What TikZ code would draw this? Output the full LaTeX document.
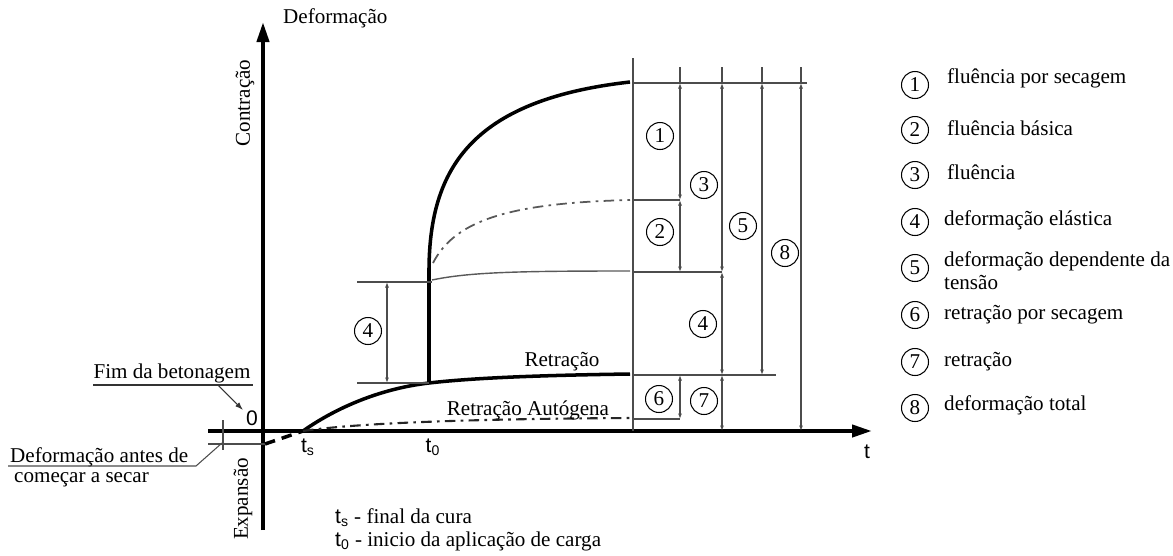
\documentclass[tikz,border=0pt]{standalone}
\usepackage{fontspec}
\setmainfont{Liberation Serif}
\newfontfamily\arialfont{Liberation Sans}
\usetikzlibrary{arrows.meta,positioning,calc}

\begin{document}
\begin{tikzpicture}[x=0.02cm, y=-0.02cm,
  font=\fontsize{12}{13}\selectfont,
  axisline/.style={line width=2.3pt, -{Triangle[length=4mm,width=2.4mm]}},
  crv/.style={line width=2pt},
  thinline/.style={gray!60!black, line width=0.6pt},
  dim/.style={thinline, {Latex[length=1.1mm,width=0.8mm]}-{Latex[length=1.1mm,width=0.8mm]}},
  num/.style={circle, draw, line width=0.6pt, minimum size=0.54cm, inner sep=0pt},
  lbl/.style={anchor=west, align=left},
  sans/.style={font=\arialfont\fontsize{12}{14}\selectfont}
]
\useasboundingbox (0,0) rectangle (1173,555);

% axes
\coordinate (ybot) at (263,530);
\coordinate (ytop) at (263,22);
\coordinate (xleft) at (208,431);
\coordinate (xright) at (872,431);
\draw[axisline] (ybot) -- (ytop);
\draw[axisline] (xleft) -- (xright);

\node[anchor=west] (deflbl) at (277,18) {Deformação};
\node[rotate=90] (contr) at (245,103) {Contração};
\node[rotate=90] (expan) at (243,499) {Expansão};
\node[sans] (tlbl) at (867,452) {t};

% start of drying
\coordinate (ts) at (303,431);
\coordinate (t0) at (429,383);
\coordinate (pre) at (265,444);
\node[sans] (tslbl) at (308,447) {t\textsubscript{s}};
\node[sans] (t0lbl) at (433,447) {t\textsubscript{0}};
\node[sans] (zero) at (252,418) {0};

\node (fim) at (172,373) {Fim da betonagem};
\coordinate (fimL) at (93,385);
\coordinate (fimR) at (253,385);
\coordinate (fimA) at (218,385);
\coordinate (fimB) at (243,410);
\draw[black!80, line width=0.6pt] (fimL) -- (fimR);
\draw[black!80, line width=0.6pt, -{Latex[length=1.6mm,width=1.1mm]}] (fimA) -- (fimB);

\node[anchor=west] (antes) at (4,457) {Deformação antes de};
\node[anchor=west] (secar) at (8,480) {começar a secar};
\coordinate (antL) at (8,466);
\coordinate (antR) at (196,466);
\coordinate (antA) at (222,443);
\draw[thinline] (antL) -- (antR) -- (antA);
\coordinate (tk1) at (223,420);
\coordinate (tk2) at (223,450);
\coordinate (preL) at (208,444);
\draw[thinline] (tk1) -- (tk2);
\draw[thinline] (preL) -- (pre);
\draw[crv, dash pattern=on 6pt off 4pt] (pre) -- (ts);

% curves
\coordinate (rEnd) at (630,374);
\coordinate (cBend) at (429,268);
\coordinate (cEnd) at (630,82);
\draw[crv] (ts) .. controls (340,405) and (385,388) .. (t0)
  .. controls (480,377) and (560,375) .. (rEnd);
\draw[crv] (t0) -- (cBend) .. controls (430,170) and (470,100) .. (cEnd);
\draw[gray!70!black, line width=1pt, dash pattern=on 6pt off 3pt on 1.5pt off 3pt]
  (433,263) .. controls (455,220) and (510,203) .. (630,200);
\draw[gray!70!black, line width=0.8pt] (432,280) .. controls (470,272) and (520,271) .. (630,271);
\draw[black!85, line width=1.2pt, dash pattern=on 6pt off 3pt on 1.5pt off 3pt]
  (ts) .. controls (350,424) and (450,419) .. (630,418);
\node (retr) at (562,362) {Retração};
\node (autog) at (528,410) {Retração Autógena};

% elastic deformation at t0
\coordinate (eTop) at (432,282);
\coordinate (eBot) at (429,383);
\draw[thinline] (357,282) -- (eTop);
\draw[thinline] (357,383) -- (eBot);
\draw[dim] (387,282) -- (387,383);
\node[num] (n4a) at (368,331) {4};

% right dimensions
\coordinate (ref) at (633,58);
\draw[thinline] (ref) -- (633,431);
\coordinate (lA) at (633,83);
\coordinate (lB) at (633,200);
\coordinate (lC) at (633,272);
\coordinate (lD) at (633,375);
\coordinate (lE) at (633,419);
\coordinate (lF) at (633,431);
\coordinate (c1) at (680,67);
\coordinate (c2) at (722,67);
\coordinate (c3) at (762,67);
\coordinate (c4) at (801,67);
\draw[thinline] (lA) -- (807,83);
\draw[thinline] (lB) -- (c1 |- lB);
\draw[thinline] (lC) -- (c2 |- lC);
\draw[thinline] (lD) -- (776,375);
\draw[thinline] (lE) -- (c1 |- lE);
\foreach \c in {c1,c2,c3,c4}
  \draw[thinline] (\c) -- (\c |- lA);
\draw[dim] (c1 |- lA) -- (c1 |- lB);
\draw[dim] (c1 |- lB) -- (c1 |- lC);
\draw[dim] (c1 |- lD) -- (c1 |- lE);
\draw[dim] (c2 |- lA) -- (c2 |- lC);
\draw[dim] (c2 |- lC) -- (c2 |- lD);
\draw[dim] (c2 |- lD) -- (c2 |- lF);
\draw[dim] (c3 |- lA) -- (c3 |- lD);
\draw[dim] (c4 |- lA) -- (c4 |- lF);
\node[num] (n1) at (660,136) {1};
\node[num] (n2) at (660,232) {2};
\node[num] (n3) at (704,185) {3};
\node[num] (n4) at (703,324) {4};
\node[num] (n5) at (743,226) {5};
\node[num] (n6) at (659,399) {6};
\node[num] (n7) at (704,401) {7};
\node[num] (n8) at (785,253) {8};

% legend
\node[num] (k1) at (915,85) {1};
\node[num] (k2) at (915,130) {2};
\node[num] (k3) at (915,175) {3};
\node[num] (k4) at (915,222) {4};
\node[num] (k5) at (915,268) {5};
\node[num] (k6) at (915,315) {6};
\node[num] (k7) at (915,362) {7};
\node[num] (k8) at (915,408) {8};
\node[lbl] (d1) at (941,78) {fluência por secagem};
\node[lbl] (d2) at (941,128) {fluência básica};
\node[lbl] (d3) at (941,172) {fluência};
\node[lbl] (d4) at (938,220) {deformação elástica};
\node[lbl] (d5) at (938,271) {deformação dependente da\\tensão};
\node[lbl] (d6) at (938,315) {retração por secagem};
\node[lbl] (d7) at (938,362) {retração};
\node[lbl] (d8) at (938,405) {deformação total};

\node[lbl] (tsdef) at (329,518) {{\arialfont t\textsubscript{s}} - final da cura};
\node[lbl] (t0def) at (329,541) {{\arialfont t\textsubscript{0}} - inicio da aplicação de carga};
\end{tikzpicture}
\end{document}
